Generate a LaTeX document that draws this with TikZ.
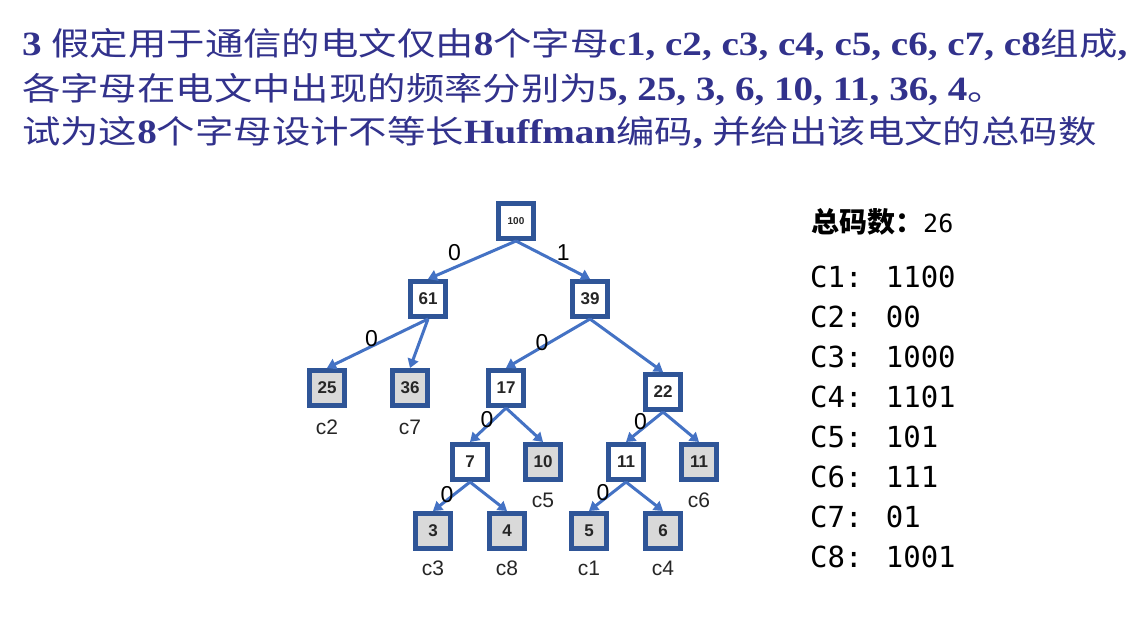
\documentclass[tikz,border=0pt]{standalone}
\usepackage{fontspec}
\setmainfont{Liberation Serif}
\newfontfamily\titlefont[FakeStretch=1.15]{Liberation Serif Bold}
\newfontfamily\titlecjk[FakeStretch=1.2]{Noto Sans CJK SC}
\newfontfamily\cjk{Noto Sans CJK SC}
\newfontfamily\arial{Liberation Sans}
\newfontfamily\cons{DejaVu Sans Mono}
\usetikzlibrary{arrows.meta,positioning}

\definecolor{titleblue}{RGB}{50,50,140}
\definecolor{boxblue}{RGB}{47,85,151}
\definecolor{edgeblue}{RGB}{68,114,196}
\definecolor{leafgray}{RGB}{217,217,217}

\newcommand{\zh}[1]{{\titlecjk\mdseries\fontsize{32}{36}\selectfont #1}}

\tikzset{
  title/.style={anchor=west, inner sep=0pt, text=titleblue,
    font=\titlefont\fontsize{34}{36}\selectfont},
  inner/.style={draw=boxblue, line width=5pt, fill=white, minimum size=35pt,
    inner sep=0pt, text=black!85, font=\arial\bfseries\fontsize{17}{17}\selectfont},
  leaf/.style={inner, fill=leafgray},
  edge/.style={draw=edgeblue, line width=3pt, -{Triangle[length=9pt,width=11pt]}},
  bit/.style={inner sep=0pt, font=\arial\fontsize{23}{23}\selectfont},
  sym/.style={inner sep=0pt, text=black!85, font=\arial\fontsize{21}{21}\selectfont},
  code/.style={anchor=west, inner sep=0pt, font=\cons\fontsize{29}{29}\selectfont}
}

\begin{document}
\begin{tikzpicture}[x=1pt, y=-1pt]
\fill[white] (0,0) rectangle (1140,636);
\useasboundingbox (0,0) rectangle (1140,636);

% question
\node[title] (line1) at (22,45) {3 \zh{假定用于通信的电文仅由}8\zh{个字母}c1, c2, c3, c4, c5, c6, c7, c8\zh{组成},};
\node[title] (line2) at (22,90) {\zh{各字母在电文中出现的频率分别为}5, 25, 3, 6, 10, 11, 36, 4\zh{。}};
\node[title] (line3) at (22,133) {\zh{试为这}8\zh{个字母设计不等长}Huffman\zh{编码}, \zh{并给出该电文的总码数}};

% huffman tree
\node[inner, font=\arial\bfseries\fontsize{10}{10}\selectfont] (n100) at (516,221) {100};
\node[inner] (n61) at (428,299) {61};
\node[inner] (n39) at (590,299) {39};
\node[leaf] (n25) at (327,388) {25};
\node[leaf] (n36) at (410,388) {36};
\node[inner] (n17) at (506,388) {17};
\node[inner] (n22) at (663,392) {22};
\node[inner] (n7) at (470,462) {7};
\node[leaf] (n10) at (543,462) {10};
\node[inner] (n11) at (626,462) {11};
\node[leaf] (n11c6) at (699,462) {11};
\node[leaf] (n3) at (433,531) {3};
\node[leaf] (n4) at (507,531) {4};
\node[leaf] (n5) at (589,531) {5};
\node[leaf] (n6) at (663,531) {6};

\draw[edge] (n100.south) -- node[bit, pos=.70, yshift=15pt] {0} (n61.north);
\draw[edge] (n100.south) -- node[bit, pos=.64, yshift=13pt] {1} (n39.north);
\draw[edge] (n61.south) -- node[bit, pos=.56, yshift=8pt] {0} (n25.north);
\draw[edge] (n61.south) -- (n36.north);
\draw[edge] (n39.south) -- node[bit, pos=.57, yshift=4pt] {0} (n17.north);
\draw[edge] (n39.south) -- (n22.north);
\draw[edge] (n17.south) -- node[bit, pos=.53, yshift=6pt] {0} (n7.north);
\draw[edge] (n17.south) -- (n10.north);
\draw[edge] (n22.south) -- node[bit, pos=.61, yshift=9pt] {0} (n11.north);
\draw[edge] (n22.south) -- (n11c6.north);
\draw[edge] (n7.south) -- node[bit, pos=.62, yshift=5pt] {0} (n3.north);
\draw[edge] (n7.south) -- (n4.north);
\draw[edge] (n11.south) -- node[bit, pos=.62, yshift=7pt] {0} (n5.north);
\draw[edge] (n11.south) -- (n6.north);

% letters
\node[sym, below=12pt of n25] (c2) {c2};
\node[sym, below=12pt of n36] (c7) {c7};
\node[sym, below=11pt of n10] (c5) {c5};
\node[sym, below=11pt of n11c6] (c6) {c6};
\node[sym, below=10pt of n3] (c3) {c3};
\node[sym, below=10pt of n4] (c8) {c8};
\node[sym, below=10pt of n5] (c1) {c1};
\node[sym, below=10pt of n6] (c4) {c4};

% codes
\node[anchor=west, inner sep=0pt] (total) at (811,222)
  {{\cjk\bfseries\fontsize{28}{28}\selectfont 总码数：}{\cons\fontsize{25}{25}\selectfont 26}};
\foreach \c/\v [count=\i] in {C1/1100, C2/00, C3/1000, C4/1101, C5/101, C6/111, C7/01, C8/1001}
  \node[code] (code\i) at (810,237+40*\i) {\c: \v};
\end{tikzpicture}
\end{document}
